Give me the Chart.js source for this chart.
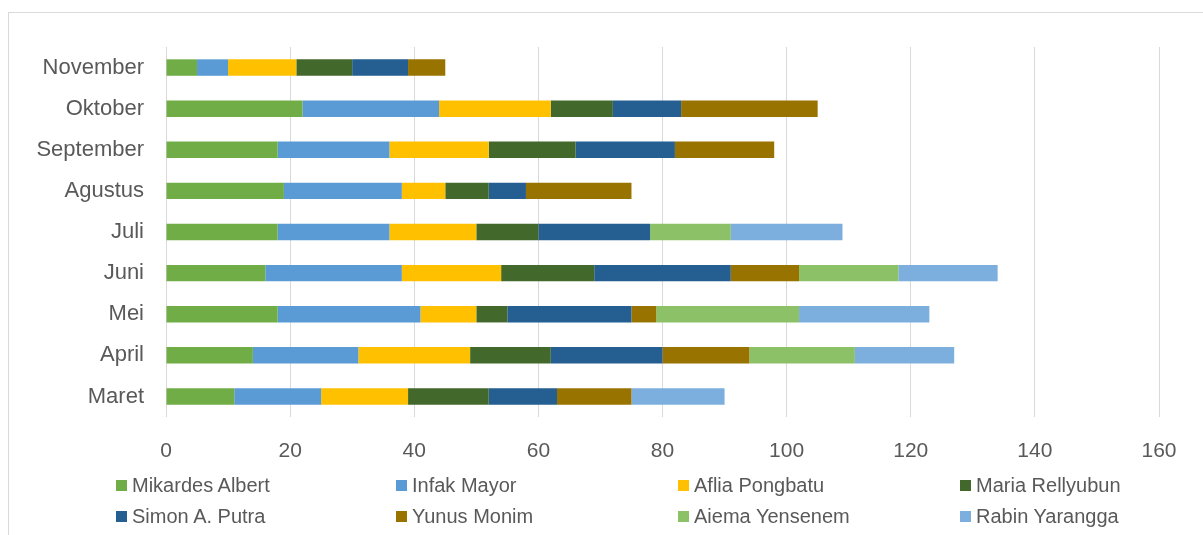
<!DOCTYPE html>
<html>
<head>
<meta charset="utf-8">
<script src="https://cdn.jsdelivr.net/npm/chart.js@4/dist/chart.umd.min.js"></script>
<style>
    body { margin: 0; background: #fff; width: 1203px; height: 535px; overflow: hidden; position: relative; font-family: "Liberation Sans", Arial, sans-serif; }
    #frame { position: absolute; left: 8px; top: 12px; width: 1300px; height: 600px; border: 1px solid #d9d9d9; box-sizing: border-box; }
    #chart-box { position: absolute; left: 0; top: 0; width: 1203px; height: 470px; }
    #legend { position: absolute; left: 0; top: 0; width: 1203px; height: 535px; }
    .legend-item { position: absolute; display: flex; align-items: center; font-size: 20px; color: #595959; white-space: nowrap; }
    .legend-item span.box { display: inline-block; width: 11px; height: 11px; margin-right: 5px; }
</style>
</head>
<body>
<div id="frame"></div>
<div id="chart-box"><canvas id="salesChart"></canvas></div>
<div id="legend"></div>
<script>
// months, bottom to top
const months = ['Maret', 'April', 'Mei', 'Juni', 'Juli', 'Agustus', 'September', 'Oktober', 'November'];

const mikardesAlbert = [11, 14, 18, 16, 18, 19, 18, 22, 5];
const infakMayor     = [14, 17, 23, 22, 18, 19, 18, 22, 5];
const afliaPongbatu  = [14, 18, 9, 16, 14, 7, 16, 18, 11];
const mariaRellyubun = [13, 13, 5, 15, 10, 7, 14, 10, 9];
const simonPutra     = [11, 18, 20, 22, 18, 6, 16, 11, 9];
const yunusMonim     = [12, 14, 4, 11, 0, 17, 16, 22, 6];
const aiemaYensenem  = [0, 17, 23, 16, 13, 0, 0, 0, 0];
const rabinYarangga  = [15, 16, 21, 16, 18, 0, 0, 0, 0];

const xTicks = [0, 20, 40, 60, 80, 100, 120, 140, 160];

const series = [
    { label: 'Mikardes Albert', data: mikardesAlbert, color: '#70ad47' },
    { label: 'Infak Mayor', data: infakMayor, color: '#5b9bd5' },
    { label: 'Aflia Pongbatu', data: afliaPongbatu, color: '#ffc000' },
    { label: 'Maria Rellyubun', data: mariaRellyubun, color: '#43682b' },
    { label: 'Simon A. Putra', data: simonPutra, color: '#255e91' },
    { label: 'Yunus Monim', data: yunusMonim, color: '#997300' },
    { label: 'Aiema Yensenem', data: aiemaYensenem, color: '#8cc168' },
    { label: 'Rabin Yarangga', data: rabinYarangga, color: '#7cafdd' }
];

const textColor = '#595959';
const gridColor = '#d9d9d9';

const ctx = document.getElementById('salesChart').getContext('2d');
new Chart(ctx, {
    type: 'bar',
    data: {
        labels: months,
        datasets: series.map(s => ({
            label: s.label,
            data: s.data,
            backgroundColor: s.color,
            borderWidth: 0,
            barPercentage: 0.4,
            categoryPercentage: 1.0
        }))
    },
    options: {
        indexAxis: 'y',
        responsive: true,
        maintainAspectRatio: false,
        animation: false,
        layout: {
            padding: { top: 47, right: 44, bottom: 0, left: 0 }
        },
        scales: {
            x: {
                stacked: true,
                min: 0,
                max: 160,
                afterBuildTicks: scale => {
                    scale.ticks = xTicks.map(v => ({ value: v }));
                },
                afterFit: scale => { scale.height = 53; },
                grid: {
                    color: gridColor,
                    lineWidth: 1,
                    drawTicks: false
                },
                border: { display: false },
                ticks: {
                    color: textColor,
                    padding: 22,
                    font: { family: '"Liberation Sans", Arial, sans-serif', size: 21 }
                }
            },
            y: {
                stacked: true,
                reverse: true,
                afterFit: scale => { scale.width = 166; },
                grid: { display: false, drawTicks: false },
                border: { display: false },
                ticks: {
                    color: textColor,
                    padding: 22,
                    font: { family: '"Liberation Sans", Arial, sans-serif', size: 22 }
                }
            }
        },
        plugins: {
            legend: { display: false },
            tooltip: { enabled: false }
        }
    }
});

// legend: 4 columns, 2 rows
const legendBox = document.getElementById('legend');
const colX = [116, 396, 678, 960];
const rowY = [485, 516];
series.forEach((s, i) => {
    const item = document.createElement('div');
    item.className = 'legend-item';
    item.style.left = colX[i % 4] + 'px';
    item.style.top = (rowY[Math.floor(i / 4)] - 12) + 'px';
    item.style.height = '24px';
    item.innerHTML = '<span class="box" style="background:' + s.color + '"></span>' + s.label;
    legendBox.appendChild(item);
});
</script>
</body>
</html>
